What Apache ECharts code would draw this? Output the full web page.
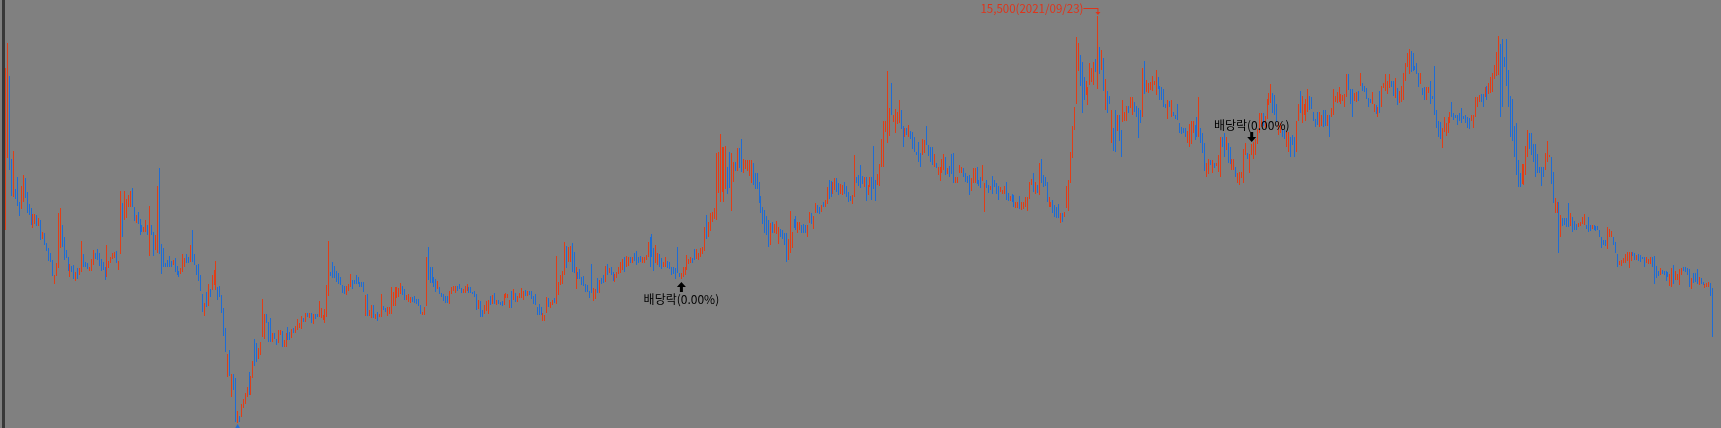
<!DOCTYPE html>
<html><head><meta charset="utf-8">
<script src="https://cdn.jsdelivr.net/npm/echarts/dist/echarts.min.js"></script>
<style>html,body{margin:0;padding:0;background:#808080;overflow:hidden}#c{width:1721px;height:428px}</style>
</head><body><div id="c"></div>
<script>
// each candle: [open, close, low, high] in KRW
const seg1 = [
[11575,12725,10150,14200],[12400,14400,11950,14825],[13525,12150,11650,14000],[11775,11150,11000,11925],[11000,11375,10975,12125],
[11150,10950,10925,11175],[11350,10900,10750,11475],[10800,10550,10500,10850],[10775,11150,10675,11250],[10950,11400,10850,11525],
[11400,11000,10950,11450],[11050,10650,10575,11100],[10775,10575,10525,10800],[10650,10350,10275,10700],[10250,10500,10200,10550],
[10350,10500,10300,10550],[10475,10300,10250,10525],[10275,10425,10250,10450],[10350,9950,9900,10400],[9950,10100,9925,10100],
[10050,9800,9775,10075],[9800,9650,9625,9825],[9650,9400,9375,9700],[9550,9400,9350,9575],[9400,9025,9000,9400],
[8825,9000,8800,9025],[9050,9300,9000,9325],[9700,10000,9200,10575],[9725,10000,9700,10700],[10200,9800,9725,10275],
[9900,9450,9400,9975],[9625,9475,9450,9650],[9450,9150,9125,9475],[9000,9250,8975,9300],[9250,9100,9100,9250],
[9250,8950,8925,9275],[8900,9075,8875,9100],[9175,8950,8925,9200],[9050,9175,9025,9200],[9100,9650,9100,9875],
[9525,9300,9225,9550],[9325,9250,9225,9350],[9300,9200,9175,9325],[9150,9200,9125,9225],[9150,9400,9125,9425],
[9300,9600,9275,9650],[9550,9450,9425,9575],[9650,9450,9400,9675],[9550,9300,9250,9575],[9400,9150,9125,9425],
[9325,9175,9150,9350],[9200,8950,8900,9225],[9050,9650,8975,9775],[9225,9350,9200,9375],[9350,9450,9325,9475],
[9450,9550,9425,9575],[9475,9575,9450,9600],[9600,9350,9325,9625],[9175,9350,9150,9375],[9700,10625,9550,11125],
[10750,10050,9975,10825],[10450,11000,10400,11125],[10500,10850,10450,10925],[10750,11000,10725,11025],[10750,11075,10725,11125],
[11150,10750,10725,11200],[10700,10400,10375,10725],[10350,10500,10325,10525],[10575,10325,10300,10600],[10400,10050,10025,10425],
[10250,10125,10100,10275],[10125,10200,10100,10225],[10125,10375,10100,10400],[10250,10050,10025,10275],[9750,10300,9500,10750],
[10250,10050,10025,10275],[10075,9550,9500,10100],[9675,9975,9650,10025],[9600,10725,9575,11250],[10700,9600,9550,11700],
[9750,9100,9050,9800],[9650,9250,9225,9700],[9300,9250,9225,9325],[9375,9250,9225,9400],[9475,9250,9225,9500],
[9350,9250,9225,9375],[9300,9375,9275,9400],[9425,9125,9100,9450],[9225,9050,9025,9250],[9100,9000,8975,9125],
[9075,9175,9050,9200],[9125,9500,9100,9550],[9250,9425,9225,9450],[9525,9350,9325,9550],[9450,9350,9325,9475],
[9375,9725,9350,9775],[10100,9400,9350,10150],[9525,9325,9275,9550],[9250,9050,9025,9275],[9275,8900,8875,9300],
[9000,8650,8625,9025],[8550,8125,8100,8550],[8025,8300,8000,8325],[8575,8250,8225,8600],[8275,8775,8250,8800],
[8650,8500,8475,8675],[8675,9000,8650,9025],[8850,9050,8775,9150],[8700,9300,8650,9375],[8700,8425,8400,8725],
[8725,8500,8475,8750],[8500,8100,8075,8525],[8175,7525,7500,8200],[7650,7250,7100,7700],[6500,6775,6475,7050],
[7100,6550,6500,7150],[6000,6500,5975,6550],[6350,6175,6150,6550],[6400,5400,5350,6450],[5350,5600,5325,5625],
[5475,5375,5350,5500],[5500,5775,5475,5800],[5750,5875,5700,5925],[5825,6050,5800,6075],[6000,6200,5975,6225]
];
const seg2 = [
[6300,6175,6025,6600],[6050,6450,6025,6500],[6475,6850,6450,6875],[7300,6800,6750,7425],[7300,6875,6850,7325],
[6950,7175,6925,7200],[7050,7325,7025,7350],[7575,7750,7475,8425],[7450,8000,7425,8050],[8025,7850,7825,8050],
[7775,7525,7350,7850],[7925,7375,7350,7950],[7375,7550,7350,7575],[7550,7450,7425,7575],[7400,7300,7275,7425],[7350,7625,7325,7650],
[7550,7625,7525,7650],[7600,7250,7225,7625],[7250,7375,7225,7400],[7250,7550,7225,7575],[7700,7425,7400,7725],
[7575,7425,7400,7600],[7475,7650,7450,7675],[7650,7600,7575,7700],[7600,7725,7575,7750],[7675,7900,7650,7925],[7725,7800,7700,7825],
[7700,7975,7675,8000],[7950,7875,7850,7950],[7875,8050,7850,8075],[8050,7975,7975,8075],[7975,8050,7950,8075],
[8050,7850,7825,8075],[7825,8025,7800,8050],[8025,7950,7925,8050],[8050,7975,7975,8050],[8000,8350,7975,8375],[7975,8175,7950,8200],
[7925,8000,7900,8025],[7850,8150,7825,8175],[8000,8750,7975,8775],[8600,9500,8500,9875],[9100,9000,9000,9100],
[9325,9000,8950,9350],[9225,8975,8950,9250],[9100,8875,8850,9125],[9050,8825,8800,9075],[8975,8800,8775,8975],
[8750,8600,8575,8775],[8725,8575,8550,8750],[8550,8725,8525,8750],[8650,8775,8625,8800],[8750,9025,8725,9050],
[8875,8700,8675,8900],[8900,8825,8800,8900],[9000,8825,8800,9025],[8950,8825,8800,8975],[8850,8750,8725,8850],
[8850,8725,8725,8850],[8825,8625,8600,8850],[8025,8500,8000,8525],[8525,8025,8000,8550],[8025,8125,8000,8150],
[7975,8250,7950,8275],[8250,7975,7950,8275],[7950,8025,7925,8050],[8075,7900,7875,8100],[7975,8050,7975,8050],
[8000,8525,7975,8550],[8250,8175,8150,8250],[8200,8125,8100,8200],[8025,8200,8000,8225],[8075,8200,8050,8225],
[8075,8700,8050,8725],[8275,8575,8250,8600],[8275,8700,8250,8725],[8475,8700,8450,8725],[8500,8675,8475,8700],
[8575,8800,8550,8825],[8725,8550,8525,8750],[8650,8425,8400,8675],[8425,8500,8400,8525],[8375,8525,8350,8550],
[8350,8450,8325,8475],[8475,8375,8350,8475],[8475,8350,8325,8500],[8425,8325,8300,8425],[8400,8275,8250,8425],
[8250,8075,8050,8275],[8025,8100,8025,8100],[8050,8200,8025,8225],[8300,9400,8250,9475],[9650,8950,8900,9725],
[9200,8850,8825,9225],[9200,8850,8825,9225],[8950,8750,8725,8975],[8900,8625,8600,8925],[8700,8850,8675,8875],
[8700,8575,8550,8725],[8575,8500,8475,8575],[8525,8400,8375,8550],[8500,8350,8325,8500],[8500,8350,8325,8500],
[8325,8600,8300,8625],[8575,8700,8550,8725],[8650,8725,8625,8750],[8600,8725,8575,8750],[8725,8650,8625,8750],[8800,8700,8675,8800],
[8700,8600,8575,8700],[8600,8650,8575,8675],[8600,8725,8575,8750],[8650,8775,8625,8800],[8725,8600,8575,8725],
[8700,8600,8575,8725],[8600,8550,8550,8600],[8625,8500,8475,8625],[8525,8175,8150,8550],[8200,8375,8175,8400],
[8350,8000,7975,8375],[8150,8000,7975,8150],[8075,8250,8050,8275],[8150,8350,8125,8375],[8075,8375,8050,8400],
[8475,8300,8275,8500],[8325,8500,8300,8525],[8550,8325,8300,8575],[8300,8375,8275,8400],[8375,8325,8300,8400],[8350,8300,8275,8350],
[8350,8275,8250,8375],[8300,8525,8275,8550],[8475,8550,8450,8575],[8475,8525,8450,8550],[8225,8375,8200,8400],
[8600,8225,8200,8625],[8425,8650,8400,8675],[8550,8375,8350,8575],[8375,8475,8350,8500],[8475,8550,8450,8575],
[8475,8675,8450,8700],[8425,8600,8400,8625],[8650,8525,8500,8650],[8525,8600,8500,8625],[8600,8550,8525,8625],[8600,8450,8425,8625],
[8475,8325,8300,8500],[8525,8300,8275,8550],[8200,8050,8025,8225],[8275,8050,8025,8300],[8200,8050,8025,8225]
];
const seg3 = [
[7900,8050,7875,8075],[7900,8000,7875,8025],[8100,8450,8075,8475],[8425,8250,8225,8450],[8225,8325,8200,8350],
[8300,8375,8275,8400],[8425,8350,8325,8450],[8325,9200,8300,9500],[8550,8825,8525,8850],[8800,9000,8775,9025],
[8825,9100,8800,9125],[9050,9800,9025,9850],[9700,9250,9200,9750],[9375,9700,9350,9725],[9375,9725,9350,9750],
[9800,9150,9100,9825],[9575,9100,9075,9600],[8700,9200,8675,9225],[9075,8950,8925,9100],[9150,8950,8925,9175],
[8950,8800,8775,8975],[8975,8775,8750,9000],[8775,8625,8600,8800],[8750,8625,8600,8775],[8600,8475,8450,8625],
[9250,8600,8575,9300],[8400,8675,8375,8700],[8450,8650,8425,8675],[8925,8600,8575,8950],[8600,8875,8575,8900],
[8925,8825,8800,8950],[9000,8850,8825,9025],[8875,9225,8850,9250],[9275,9050,9025,9300],
[9100,9175,9075,9200],[9200,9050,9025,9225],[9075,8900,8875,9100],[8875,9025,8850,9050],[8975,9075,8950,9100],
[9075,9200,9050,9225],[9100,9325,9075,9350],[9175,9400,9150,9425],[9450,9125,9100,9475],[9250,9475,9225,9500],
[9275,9450,9250,9475],[9450,9350,9325,9475],[9350,9450,9325,9475],[9550,9400,9375,9575],
[9600,9300,9275,9625],[9450,9350,9325,9475],[9475,9375,9350,9500],[9350,9450,9325,9475],
[9350,9450,9325,9475],[9425,9500,9400,9525],[9500,9800,9475,9850],[9950,9250,9225,9975],
[10025,9500,9475,10050],[9675,9150,9125,9700],[9350,9750,9325,9775],[9300,9550,9275,9575],
[9525,9250,9225,9550],[9425,9200,9175,9450],[9250,9325,9225,9350],[9250,9450,9225,9475],[9350,9225,9200,9375],
[9325,9200,9175,9350],[9200,9050,9025,9225],[9200,9075,9050,9225],[9175,8950,8925,9200],
[9700,9100,9075,9725],[9075,9000,8975,9075],[8950,9050,8925,9075],[9000,9200,8975,9225],[9050,9200,9025,9225],
[9175,9500,9150,9525],[9325,9400,9300,9425],[9350,9450,9325,9475],[9450,9350,9325,9450],[9650,9425,9400,9675],
[9450,9650,9425,9675],[9425,9550,9400,9575],[9500,9675,9475,9700],[9575,9700,9550,9725],[9650,10200,9625,10225],
[10500,9950,9925,10525],[10000,10325,9975,10350],[10150,10550,10125,10575],[10375,10575,10350,10600],[10450,10675,10425,10700],
[10425,11900,10400,12075],[11100,11950,11075,12100],[11000,12400,10850,12550],[11125,12200,11100,12225],[10900,12150,10850,12225],
[11200,12200,11175,12250],[11700,11075,11050,11725],[12050,11250,11200,12100],[10700,12000,10625,12075],[11375,11825,11350,11850],
[11850,11650,11625,11850],[11650,12175,11625,12200],[12175,11725,11700,12200],[12400,11650,11600,12425],[11600,11900,11575,11925],
[11700,11875,11675,11900],[11650,11875,11625,11900],[11525,11875,11500,11900],[11350,11875,11325,11900],[11800,11300,11275,11825],
[11550,11200,11175,11575],[11550,11200,11175,11575],[11325,10850,10825,11350],[10975,10600,10575,11000],[10700,10325,10300,10725],
[10625,10100,10075,10650],[10475,10050,10025,10500],[10375,9750,9725,10400],[9800,10300,9775,10325],[10325,10100,10075,10350],
[10100,10275,10075,10300],[10075,10350,10050,10375],[9825,10200,9800,10225],[10150,10000,9975,10175],[10125,9950,9925,10150],
[10050,9800,9775,10075],[10050,9400,9350,10075],[9425,9900,9400,9925],[9600,10600,9575,10625],[9725,10075,9700,10100],
[10400,10225,10200,10425],[10475,10175,10150,10500],[10100,10325,10075,10350],[10175,10325,10150,10350],[10250,10100,10075,10275],
[10275,10100,10075,10300],[10250,10100,10075,10275],[10000,10250,9975,10275],[10350,10575,10325,10600],[10550,10325,10300,10575],
[10200,10475,10175,10500],[10600,10800,10575,10825],[10750,10600,10575,10775],[10700,10575,10550,10725]
];
const seg4 = [
[10625,10750,10600,10775],[10850,10750,10725,10850],[10750,10875,10725,10900],[10825,11200,10800,11225],[11375,10950,10925,11400],
[11350,11000,10975,11375],[11075,11325,11050,11350],[11175,11425,11150,11450],[11425,11125,11100,11450],[11300,11050,11025,11325],
[11075,11275,11050,11300],[11050,11250,11025,11275],[11325,11075,11050,11350],[11225,11000,10975,11250],[11075,10875,10850,11100],
[11000,10900,10875,11000],[10825,11000,10800,11025],[11000,11700,10975,12025],[11475,11350,11325,11475],[11500,11275,11250,11525],
[11750,11225,11200,11775],[11475,11325,11300,11500],[11250,11450,11225,11475],[11450,10900,10875,11475],[11050,11250,11025,11275],
[11250,11450,11225,11475],[11450,10925,10900,11475],[12200,11200,11175,12250],[11375,10900,10875,11400],[11300,11525,11275,11550],
[11275,11775,11250,11800],[11750,12400,11725,12425],[11750,12850,11725,12875],[12625,12850,12600,12875],[12350,12900,12325,14125],
[12525,13175,12500,13200],[13800,13050,13025,13825],[12875,13000,12850,13025],[12600,13150,12575,13175],[12825,13075,12800,13100],
[12850,13375,12825,13400],[13125,12700,12675,13150],[12725,12250,12225,12750],[12500,12675,12475,12700],[12675,12550,12525,12700],
[12500,12750,12475,12775],[12600,12450,12425,12625],[12575,12200,12175,12600],[12450,12125,12100,12475],[12100,12050,12025,12100],
[12325,11875,11850,12350],[12050,11750,11725,12075],[12050,12400,12025,12425],[12100,12375,12075,12400],[12725,12300,12275,12750],
[12250,12025,12000,12275],[12200,11875,11850,12225],[12200,11800,11775,12225],[11750,12025,11725,12050],[11825,11725,11700,11825],
[11550,11700,11525,11725],[11400,11700,11375,11725],[11600,11900,11575,11925],[11675,12025,11650,12050],[11950,11550,11525,11975],
[11575,11675,11550,11700],
[11725,11500,11475,11750],[12025,11575,11550,12050],[12050,11350,11325,12075],[11350,11450,11325,11475],[11350,11450,11325,11475],
[11600,11750,11575,11775],[11600,11700,11575,11725],[11675,11500,11475,11700],[11550,11375,11350,11575],[11475,11350,11325,11500],
[11500,11050,11025,11525],[11150,11425,11125,11450],[11350,11675,11325,11700],[11350,11675,11325,11700],[11700,11325,11300,11725],
[11350,11275,11250,11400],
[11450,11225,11200,11475],[11400,11750,11375,11775],[11000,11300,10600,11325],[11375,11225,11200,11400],[11250,11100,11075,11275],
[11175,11225,11150,11250],[11475,11075,11050,11500],[11375,11250,11225,11400],[11300,11075,11050,11325],[11225,10925,10900,11250],
[11125,11200,11100,11225],[11075,11125,11050,11150],[11075,11225,11050,11250],[11325,10925,10900,11350],[11050,10900,10875,11075],
[10900,10975,10875,11000],
[11025,10875,10850,11050],[11000,10750,10725,11025],[10725,10825,10700,10850],[10725,10825,10700,10850],[10975,10700,10675,11000],
[10675,10825,10650,10850],[10700,10825,10675,10850],[10750,10950,10725,10975],[10650,10950,10625,10975],[10950,11325,10925,11350],
[11300,11400,11275,11425],
[11550,11125,11100,11575],[11075,11325,11050,11350],[11250,11100,11075,11275],[11050,11800,11025,11825],[11900,11350,11325,11925],
[11500,11250,11225,11525],[11450,11275,11250,11475],[11325,10875,10850,11350],[10750,10950,10725,10975],[10750,10825,10725,10850],
[10875,10600,10575,10900],[10750,10500,10475,10775],[10700,10475,10450,10725],[10775,10475,10450,10800],[10350,10550,10325,10575],
[10550,10375,10350,10575],[10500,10575,10475,10600],[10725,11225,10700,11250],[10650,11375,10625,11400],[11350,12075,11325,12100],
[11975,12725,11950,12750],[12675,13200,12650,13225],[13350,14600,13300,14975],[14150,14800,14125,14825],
[14500,13775,13750,14525],[14325,13100,13075,14350],[13950,13425,13400,13975],[13550,13850,13525,13875],[13300,13700,13275,13725],
[13800,14300,13775,14325],[13875,14175,13850,14200],[13800,14325,13775,14350],[14400,14125,14100,14425],[13700,14700,13675,15500],
[14700,14075,14050,14725],[14175,14625,14150,14650],[14425,13650,13625,14450]
];
const seg5 = [
[13175,13900,13150,13925],[13600,13100,13075,13625],[13475,13325,13300,13500],[12350,13125,12325,13150],[12675,12150,12125,12700],
[13125,12125,12100,13150],[12650,13000,12625,13025],[13000,12400,12375,13025],[12625,12000,11975,12650],[12875,13375,12850,13400],
[12900,13075,12875,13100],[12900,13225,12875,13250],[13200,13100,13075,13250],[13225,13450,13200,13475],[13050,13450,13025,13475],[13325,13125,13100,13350],
[13225,13000,12975,13250],[13175,12475,12450,13200],[13125,12850,12825,13150],[13000,14100,12975,14200],[14350,13575,13550,14375],
[13625,13875,13600,13900],[13600,13800,13575,13825],[13675,13825,13650,13850],[13650,13975,13625,14000],[13775,13850,13775,13875],
[13550,14125,13525,14150],[13950,13700,13675,13975],[13725,13425,13400,13750],[13700,13425,13400,13725],[13650,13250,13225,13675],
[13300,13225,13200,13300],[12950,13375,12925,13400],[13350,13250,13225,13375],[13000,13375,12975,13400],[13100,13025,13000,13100],[13025,12950,12925,13025],
[13275,12925,12900,13300],[12800,12600,12575,12825],[12700,12575,12550,12725],[12700,12600,12575,12700],[12675,12500,12475,12700],
[12350,12600,12325,12625],[12250,12775,12225,12800],[12325,12850,12300,12875],[12600,12850,12575,12875],[12750,12425,12400,12775],
[12950,12500,12475,12975],[12500,13000,12475,13475],[12675,12350,12325,12700],[12550,12100,12075,12575],[12300,11650,11625,12325],
[11500,11800,11475,11825],[11575,11900,11550,11925],[11875,11800,11775,11900],[11600,11875,11575,11900],[11825,11725,11700,11825],[11750,11800,11750,11825],
[11625,12000,11600,12025],[11500,12000,11475,12475],[12450,12250,12225,12475],[12550,12000,11975,12575],[12175,12450,12150,12475],
[12300,11850,11825,12325],[12200,11825,11800,12225],[11675,11900,11650,11925],[11675,11900,11650,11925],[11700,11500,11475,11725],
[11350,11550,11325,11575],[11300,11575,11275,11600],[11475,11575,11450,11600],[11350,12150,11325,12175],[12050,12300,12025,12325],
[12075,11950,11925,12075],[11600,12025,11575,12050],[12050,12275,12025,12300],[11950,12325,11925,12350],[12050,12400,12025,12425],
[12325,12650,12300,12675],[12600,13050,12575,13075],[12750,13050,12725,13075],[13050,12775,12750,13075],
[12725,12975,12700,13000],[12950,13400,12925,13425],[13300,13550,13275,13575],[13350,13775,13325,13800],
[13550,13100,13075,13575],[13500,13050,13025,13525],[13275,12875,12850,13300],[12550,12825,12525,12850],[12600,12800,12575,12825],
[12650,12500,12475,12675],[12625,12450,12425,12650],[12250,12600,12225,12625],[12125,12575,12100,12600],[12450,12000,11975,12475],
[12500,12300,12275,12525],[12450,12000,11975,12475],[12125,12850,12100,12875],[12900,13275,12875,13300],[13600,13100,13075,13625],
[12850,13475,12825,13500],[13050,13275,13025,13300],[12900,13400,12875,13425],[13125,13650,13100,13675],[13475,13175,13150,13500],
[13450,13200,13175,13475],[13075,12900,12875,13100],[12900,12750,12725,12925],[13075,12800,12775,13100],[12750,13075,12725,13100],
[12775,13000,12750,13025],[13125,12750,12725,13150],[13125,12775,12750,13150],[12775,13000,12750,13025],
[13000,12500,12475,13025],[13000,13175,12975,13200],[13050,13650,13025,13675],[13375,13475,13350,13500],[13350,13575,13325,13600],
[13375,13700,13350,13725],[13325,13525,13300,13550],[13400,13500,13375,13525],[13250,13525,13225,13550],
[13500,14025,13475,14050],[14025,13675,13650,14050],[13650,13325,13300,13675],[13650,13000,12975,13675],[13400,13550,13375,13575],
[13375,13575,13350,13600],[13600,13400,13375,13625],[13775,14050,13750,14075],[13800,13650,13625,13825],[13725,13625,13600,13750],
[13675,13450,13425,13700],[13425,13250,13225,13450],[13425,13350,13325,13425],[13325,13575,13300,13600],[13125,13275,13100,13300],
[13250,13075,13050,13275],[13000,13200,12975,13225]
];
const seg6 = [
[13600,13100,13075,13625],[13250,13725,13225,13750],[13725,13800,13700,13825],[13650,14025,13625,14050],[13575,13850,13550,13875],
[13725,14025,13700,14050],[13850,13750,13725,13875],[13850,13525,13500,13875],[13475,13925,13450,13950],[13675,13300,13275,13700],
[13350,13600,13325,13625],[13375,13725,13350,13750],[13425,14050,13400,14075],[13900,14300,13875,14325],
[14250,14550,14225,14575],[14075,14650,14050,14675],[14600,14125,14100,14625],[14550,14150,14125,14575],[14250,14175,14150,14250],
[14300,14075,14050,14325],[14050,13750,13725,14075],[13825,14050,13800,14075],[13675,13550,13525,13700],[13700,13425,13400,13725],
[13425,13700,13400,13725],[13600,13700,13575,13725],[13850,13325,13300,13875],[13500,13450,13425,13500],
[14225,13050,13025,14250],[13125,12725,12700,13150],[12850,12500,12475,12875],[12825,12450,12425,12850],[12225,12675,12200,12700],
[12625,12950,12600,12975],[12525,12800,12500,12825],[12600,12950,12575,12975],[12850,13075,12825,13100],[13325,13000,12975,13350],
[13050,12925,12900,13075],[13025,12975,12950,13025],[13000,12800,12775,13025],[13050,12900,12875,13075],[13175,12850,12825,13200],
[13000,12950,12925,13000],[13000,12850,12825,13025],[12950,12725,12700,12975],[12925,12700,12675,12950],[12900,13000,12875,13025],
[12725,13000,12700,13025],[13000,13450,12975,13475],[13250,13450,13225,13475],[13375,13500,13350,13525],[13525,13375,13350,13550],
[13525,13250,13225,13550],[13500,13700,13475,13725],[13725,13425,13400,13750],[13575,13800,13550,13825],[13600,13950,13575,13975],
[13625,14050,13600,14075],[13950,14250,13925,14275],[14025,14575,14000,14600],[14050,14550,14025,15000],[14700,13200,12975,14800],
[14900,13250,13225,14925],[14475,14250,14225,14475],[14900,13775,13750,14925],[14125,13250,13225,14150],[13475,12500,12475,13500],
[13400,12400,12375,13425],[12725,12000,11975,12750],[12800,11550,11525,12825],[11875,11250,11225,11900],[11550,11250,11225,11575],
[11325,11775,11300,11800],[11325,11775,11275,11800],[11550,12225,11525,12250],[12000,12625,11975,12650],[12550,12200,12175,12575],
[12550,12050,12025,12575],[12275,11875,11850,12300],[12275,11500,11475,12300],[12025,11600,11575,12050],[11700,11600,11575,11725],
[11700,11275,11250,11725],[11700,11500,11475,11725],[11675,12050,11650,12075],[11875,12350,11850,12375],[11975,12025,11975,12025],
[11950,11325,11300,11975],[11575,10850,10825,11600],[10600,10925,10575,10950],[10600,10825,10575,10850],[10825,9600,9575,10850],
[10000,10500,9975,10525],[10425,10275,10250,10450],[10425,10300,10275,10450],[10425,10250,10225,10450],[10800,10250,10225,10825],
[10275,10550,10250,10575],[10450,10125,10100,10475],[10350,10175,10150,10375],[10300,10175,10150,10300],[10250,10300,10225,10325],
[10275,10325,10250,10350],[10325,10450,10300,10475],[10300,10525,10275,10550],[10275,10200,10175,10275],[10450,10125,10100,10475],
[10275,10150,10125,10275],[10200,10250,10175,10275],[10275,10175,10150,10275],[10250,10150,10125,10250],[10250,10175,10150,10250],
[10125,10000,9975,10150],[9950,9725,9700,9975],[9900,9800,9775,9900],[9900,9775,9750,9900],[9700,10200,9675,10225],
[10000,10150,9975,10175],[10000,10100,9975,10125],[9950,9800,9775,9975],[9825,9600,9575,9850],[9525,9250,9225,9550],
[9300,9350,9275,9375],[9275,9375,9250,9400],[9350,9425,9325,9450],[9350,9525,9325,9550],[9400,9575,9375,9600],
[9225,9575,9200,9600],[9400,9575,9375,9600],[9600,9525,9500,9600],[9550,9425,9400,9575],[9425,9500,9400,9525],
[9525,9400,9375,9550],[9500,9375,9350,9525],[9475,9450,9425,9475],[9450,9250,9225,9475],[9350,9450,9325,9475],
[9325,9400,9300,9425],[9325,9450,9300,9475],[9450,9250,9225,9475],[9475,8850,8800,9500],[9225,8975,8950,9250],
[9125,9025,9000,9125],[9050,9175,9025,9200],[9150,9075,9050,9150],[9125,9050,9025,9125],[9100,8900,8875,9125],
[9100,9000,8975,9100],[8775,9025,8750,9050],[8750,9150,8725,9200],[9250,8825,8800,9275],[8925,9100,8900,9125],
[8925,9025,8900,9050],[8800,9150,8775,9175],[9050,9175,9025,9200],[9225,9150,9125,9225],[9225,9125,9100,9225],
[9175,9050,9025,9200],[9150,8750,8725,9175],[8700,8925,8675,8950],[9050,8850,8825,9075],[9050,8875,8850,9075],
[9150,8825,8800,9175],[8800,8950,8775,8975],[8950,8825,8800,8950],[8850,8800,8775,8850],[8725,8775,8700,8800],
[8750,8800,8725,8825],[8750,8825,8725,8850],[8800,8525,8500,8825],[8675,7500,7475,8700]
];
const exDividendIdx = [347, 640];
const exDividendText = '배당락(0.00%)';
const peakDay = new Date(2021, 8, 23);

const RED = '#e23d16', BLUE = '#1d6cd6', TEXT_RED = '#e0341a';
const candles = [].concat(seg1, seg2, seg3, seg4, seg5, seg6);
const N = candles.length;
let peakIdx = 0, minIdx = 0;
candles.forEach((c, i) => { if (c[3] > candles[peakIdx][3]) peakIdx = i; if (c[2] < candles[minIdx][2]) minIdx = i; });

function shiftTradingDays(base, n) {
  const d = new Date(base); const step = n >= 0 ? 1 : -1; let k = Math.abs(n);
  while (k > 0) { d.setDate(d.getDate() + step); const w = d.getDay(); if (w !== 0 && w !== 6) k--; }
  return d;
}
const pad = v => String(v).padStart(2, '0');
const fmt = d => d.getFullYear() + '/' + pad(d.getMonth() + 1) + '/' + pad(d.getDate());
const dates = candles.map((_, i) => fmt(shiftTradingDays(peakDay, i - peakIdx)));

const firstX = 6, lastX = 1713, W = 1721;
const step = (lastX - firstX) / (N - 1);
const FONT = '"Noto Sans CJK KR", "Noto Sans", sans-serif';

const peakLabel = candles[peakIdx][3].toLocaleString('en-US') + '(' + dates[peakIdx] + ')';

const marks = [
  { coord: [dates[peakIdx], candles[peakIdx][3]],
    symbol: 'path://M0,0H15V1H0Z M14,0H15V5H14Z M12,4H17L14.5,7Z', symbolSize: [17, 7], symbolOffset: [-6, -4.5],
    itemStyle: { color: TEXT_RED },
    label: { show: true, position: 'left', distance: 0, offset: [0, -3], formatter: peakLabel, color: TEXT_RED, fontSize: 11.5, fontFamily: FONT } },
  { coord: [dates[exDividendIdx[0]], candles[exDividendIdx[0]][2]],
    symbol: 'path://M4.5,0L9,5H6V10H3V5H0Z', symbolSize: [9, 10], symbolOffset: [0, 8],
    itemStyle: { color: '#000' },
    label: { show: true, position: 'bottom', distance: 1, formatter: exDividendText, color: '#000', fontSize: 12, fontFamily: FONT } },
  { coord: [dates[exDividendIdx[1]], candles[exDividendIdx[1]][3]],
    symbol: 'path://M3,0H6V5H9L4.5,10L0,5H3Z', symbolSize: [9, 10], symbolOffset: [0, -7],
    itemStyle: { color: '#000' },
    label: { show: true, position: 'top', distance: 1, formatter: exDividendText, color: '#000', fontSize: 12, fontFamily: FONT } },
  { coord: [dates[minIdx], candles[minIdx][2]],
    symbol: 'triangle', symbolSize: [7, 6], symbolOffset: [0, 4],
    itemStyle: { color: BLUE }, label: { show: false } }
];

const chart = echarts.init(document.getElementById('c'), null, { renderer: 'canvas' });
chart.setOption({
  backgroundColor: '#808080',
  animation: false,
  grid: { left: firstX - step / 2, right: W - lastX - step / 2, top: 0, bottom: 0 },
  xAxis: { type: 'category', data: dates, boundaryGap: true, show: false },
  yAxis: { type: 'value', min: 5200, max: 15900, show: false },
  graphic: [{ type: 'rect', shape: { x: 2, y: 0, width: 3, height: 428 }, style: { fill: '#383838' }, silent: true }],
  series: [{
    type: 'candlestick', large: false, barWidth: 1, data: candles,
    itemStyle: { color: RED, color0: BLUE, borderColor: RED, borderColor0: BLUE, borderWidth: 1 },
    emphasis: { disabled: true },
    markPoint: { silent: true, animation: false, data: marks }
  }]
});
</script>
</body></html>
